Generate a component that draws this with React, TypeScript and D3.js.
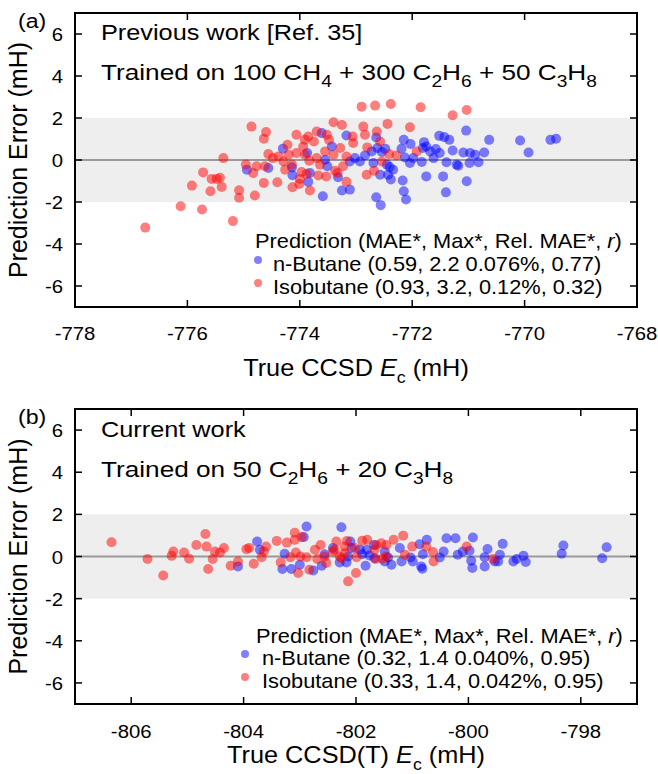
import React from "react";
import * as d3 from "d3";

const FONT = "'Liberation Sans', Arial, Helvetica, sans-serif";

const yTicks = [-6, -4, -2, 0, 2, 4, 6];
const xTicksA = [-778, -776, -774, -772, -770, -768];
const xTicksB = [-806, -804, -802, -800, -798];

const legendHeader = "Prediction (MAE*, Max*, Rel. MAE*, ";
const legendA = ["n-Butane (0.59, 2.2 0.076%, 0.77)", "Isobutane (0.93, 3.2, 0.12%, 0.32)"];
const legendB = ["n-Butane (0.32, 1.4 0.040%, 0.95)", "Isobutane (0.33, 1.4, 0.042%, 0.95)"];

const nButaneA: [number, number][] = [
  [-774.94,-0.46],[-774.56,-0.38],[-774.30,0.54],[-774.14,-0.35],[-774.13,-0.73],[-773.87,0.33],[-773.85,-1.04],[-773.82,-0.62],
  [-773.61,1.28],[-773.59,-1.73],[-773.51,-0.30],[-773.43,0.64],[-773.32,-0.82],[-773.25,-1.45],[-773.17,1.17],[-773.11,-1.41],
  [-773.11,-0.07],[-773.02,0.09],[-772.93,-0.07],[-772.84,0.22],[-772.72,0.41],[-772.69,-0.14],[-772.64,1.07],[-772.62,0.57],
  [-772.64,-1.77],[-772.57,-0.70],[-772.56,-2.15],[-772.54,0.38],[-772.48,0.54],[-772.45,-0.22],[-772.43,-0.70],[-772.40,-0.33],
  [-772.34,-0.46],[-773.55,0.01],[-772.38,-0.93],[-772.19,0.54],[-772.17,-0.98],[-772.15,0.96],[-772.15,-1.49],[-772.11,-1.88],
  [-772.13,0.12],[-772.04,-0.14],[-772.03,0.76],[-771.98,0.09],[-771.83,-0.09],[-771.81,0.57],[-771.79,0.85],[-771.75,0.64],
  [-771.75,-0.78],[-771.68,0.41],[-771.62,0.09],[-771.58,0.52],[-771.52,1.15],[-771.51,0.33],[-771.45,-0.78],[-771.43,1.09],
  [-771.40,-1.54],[-771.39,-0.11],[-771.34,0.96],[-771.28,0.45],[-771.21,-0.22],[-771.18,-0.27],[-771.09,0.36],[-771.04,1.40],
  [-771.03,-1.01],[-770.98,-0.14],[-770.97,0.33],[-770.88,0.25],[-770.82,-0.11],[-770.72,0.36],[-770.63,0.96],[-770.08,0.93],
  [-769.93,0.36],[-769.54,0.96],[-769.44,1.01]
];

const isobutaneA: [number, number][] = [
  [-776.75,-3.22],[-776.12,-2.20],[-775.74,-2.36],[-775.19,-2.91],[-775.92,-1.22],[-775.72,-0.59],[-775.59,-1.49],[-775.57,-0.90],
  [-775.48,-0.90],[-775.42,-0.85],[-775.39,-1.28],[-775.36,0.09],[-775.08,-1.44],[-775.08,-1.80],[-774.96,-0.22],[-774.86,1.59],
  [-774.60,1.33],[-774.64,1.01],[-774.06,1.20],[-773.85,1.12],[-773.70,1.36],[-773.52,1.20],[-773.48,0.96],[-773.40,1.80],
  [-773.25,1.67],[-772.87,1.59],[-772.84,1.20],[-773.06,1.12],[-773.05,0.81],[-772.63,1.36],[-772.90,2.54],[-772.66,2.59],
  [-773.91,0.96],[-773.75,0.88],[-774.22,0.73],[-773.94,0.64],[-773.28,0.57],[-772.80,0.60],[-774.56,0.28],[-774.38,0.17],
  [-774.20,0.25],[-774.06,0.33],[-773.91,0.25],[-773.70,0.09],[-773.55,0.41],[-773.40,0.25],[-773.17,0.17],[-774.48,0.09],
  [-774.29,-0.07],[-774.14,-0.22],[-773.83,-0.03],[-773.64,-0.22],[-774.77,-0.30],[-774.62,-0.30],[-774.83,-0.62],[-774.26,-0.46],
  [-773.97,-0.57],[-773.88,-0.66],[-773.67,-0.74],[-773.53,-0.78],[-773.37,-0.51],[-773.33,-0.62],[-773.23,-0.30],[-772.81,-0.70],
  [-772.68,-0.51],[-774.64,-1.09],[-774.40,-1.06],[-774.13,-1.30],[-774.01,-1.14],[-773.82,-1.45],[-773.17,-1.04],[-774.80,-1.69],
  [-772.57,0.88],[-772.54,-0.07],[-772.44,1.72],[-772.41,0.28],[-772.38,2.67],[-772.28,0.22],[-772.04,1.56],[-771.92,0.41],
  [-771.85,2.51],[-771.28,2.13],[-771.03,2.38],[-774.00,-0.90]
];

const nButaneB: [number, number][] = [
  [-804.10,-0.47],[-803.76,0.71],[-803.71,0.32],[-803.27,0.13],[-803.31,-0.59],[-803.15,-0.59],[-803.00,-0.39],[-802.88,1.42],
  [-802.93,0.92],[-802.76,-0.66],[-802.61,-0.44],[-802.41,0.40],[-802.26,1.39],[-802.29,-0.28],[-802.17,-0.28],[-802.10,0.71],
  [-801.93,0.32],[-801.81,0.32],[-801.83,-0.44],[-801.68,0.55],[-801.67,-0.08],[-802.56,0.11],[-802.08,0.40],[-802.14,0.00],
  [-801.89,0.11],[-801.76,0.05],[-801.49,0.24],[-801.43,-0.05],[-801.49,-0.24],[-801.37,-0.39],[-801.22,0.40],[-801.19,-0.24],
  [-801.03,-0.05],[-800.99,-0.24],[-800.87,0.58],[-800.74,0.79],[-800.81,0.11],[-800.84,-0.47],[-800.82,-0.58],[-800.51,-0.05],
  [-800.44,0.24],[-800.39,0.87],[-800.23,0.87],[-800.19,0.08],[-800.10,0.24],[-799.98,0.27],[-799.92,0.90],[-799.95,-0.20],
  [-799.93,-0.55],[-799.66,0.36],[-799.39,0.60],[-799.44,0.08],[-799.71,-0.03],[-799.53,-0.24],[-799.47,-0.24],[-799.71,-0.47],
  [-799.20,-0.24],[-799.14,-0.12],[-799.02,0.03],[-798.98,-0.26],[-798.31,0.52],[-798.34,0.13],[-797.54,0.44],[-797.62,-0.08]
];

const isobutaneB: [number, number][] = [
  [-806.35,0.68],[-805.71,-0.12],[-805.43,-0.90],[-805.28,0.03],[-805.25,0.24],[-805.06,0.19],[-804.97,-0.11],[-804.84,0.55],
  [-804.68,1.07],[-804.66,0.47],[-804.63,-0.59],[-804.55,-0.12],[-804.51,0.24],[-804.42,0.19],[-804.35,0.40],[-804.23,-0.44],
  [-804.10,-0.24],[-803.95,0.35],[-803.90,0.40],[-803.82,-0.34],[-803.68,-0.03],[-803.64,0.24],[-803.60,0.47],[-803.41,0.74],
  [-803.34,-0.28],[-803.23,0.66],[-803.09,1.13],[-803.09,0.79],[-803.17,-0.03],[-803.03,-0.78],[-802.97,0.92],[-803.07,0.19],
  [-802.99,0.00],[-802.88,-0.03],[-802.83,-0.63],[-802.73,0.32],[-802.69,-0.12],[-802.63,0.55],[-802.56,0.00],[-802.53,-0.31],
  [-802.41,0.24],[-802.35,0.71],[-802.29,0.00],[-802.20,0.47],[-802.16,0.74],[-802.14,-1.18],[-802.00,-0.78],[-801.99,-0.03],
  [-801.89,0.75],[-801.80,0.79],[-801.65,-0.12],[-802.38,0.32],[-802.26,-0.08],[-802.20,0.16],[-802.02,0.40],[-801.67,0.32],
  [-801.64,0.55],[-801.55,0.63],[-801.46,0.55],[-801.33,0.79],[-801.16,0.99],[-801.00,0.47],[-800.75,0.47],[-801.53,-0.11],
  [-801.46,0.00],[-801.13,0.08],[-800.63,0.21],[-800.62,-0.24],[-800.03,0.47],[-799.56,-0.12]
];

type Seg = { t: string; sub?: boolean; it?: boolean };

function SegText({ segs, x, y, fs, sx = 1, anchor = "start", subScale = 0.7 }: { segs: Seg[]; x: number; y: number; fs: number; sx?: number; anchor?: string; subScale?: number }) {
  let shifted = false;
  const subFs = fs * subScale;
  const shift = fs * 0.3;
  return (
    <text transform={`translate(${x},${y}) scale(${sx},1)`} fontSize={fs} textAnchor={anchor} fill="#000">
      {segs.map((s, i) => {
        let dy = 0;
        if (s.sub && !shifted) { dy = shift; shifted = true; }
        else if (!s.sub && shifted) { dy = -shift; shifted = false; }
        return (
          <tspan key={i} dy={dy} fontSize={s.sub ? subFs : fs} fontStyle={s.it ? "italic" : "normal"}>{s.t}</tspan>
        );
      })}
    </text>
  );
}

const X0 = 75, X1 = 637;
const BLUE = "#0000ff", RED = "#ff0000";
const ANN_FS = 22;
const LEG_FS = 20, LEG_SX = 1.09;

type PanelProps = {
  top: number; bottom: number; xDomain: [number, number]; xTicks: number[];
  blue: [number, number][]; red: [number, number][];
  label: string; line1: Seg[]; line2: Seg[]; line1Y: number; line2Y: number; legend: string[];
  legendX: number; legendDotX: number; legendTextX: number; legendY: number[];
  xTitle: Seg[]; tickLabelY: number; titleY: number;
};

function Panel(p: PanelProps) {
  const x = d3.scaleLinear().domain(p.xDomain).range([X0, X1]);
  const y = d3.scaleLinear().domain([-7, 7]).range([p.bottom, p.top]);
  const tl = 7;
  const cy = (p.top + p.bottom) / 2;
  return (
    <g fontFamily={FONT}>
      <rect x={X0} y={y(2)} width={X1 - X0} height={y(-2) - y(2)} fill="#eeeeee" />
      <line x1={X0} x2={X1} y1={y(0)} y2={y(0)} stroke="#999" strokeWidth={2} />
      {p.blue.map((d, i) => (
        <circle key={"b" + i} cx={x(d[0])} cy={y(d[1])} r={5} fill={BLUE} fillOpacity={0.5} />
      ))}
      {p.red.map((d, i) => (
        <circle key={"r" + i} cx={x(d[0])} cy={y(d[1])} r={5} fill={RED} fillOpacity={0.5} />
      ))}
      {p.xTicks.map((t) => (
        <g key={"xt" + t}>
          <line x1={x(t)} x2={x(t)} y1={p.bottom} y2={p.bottom - tl} stroke="#000" strokeWidth={1.5} />
          <line x1={x(t)} x2={x(t)} y1={p.top} y2={p.top + tl} stroke="#000" strokeWidth={1.5} />
          <SegText segs={[{ t: String(t) }]} x={x(t)} y={p.tickLabelY} fs={19} sx={1.07} anchor="middle" />
        </g>
      ))}
      {yTicks.map((t) => (
        <g key={"yt" + t}>
          <line x1={X0} x2={X0 + tl} y1={y(t)} y2={y(t)} stroke="#000" strokeWidth={1.5} />
          <line x1={X1} x2={X1 - tl} y1={y(t)} y2={y(t)} stroke="#000" strokeWidth={1.5} />
          <SegText segs={[{ t: String(t) }]} x={63} y={y(t) + 7} fs={19} sx={1.07} anchor="end" />
        </g>
      ))}
      <rect x={X0} y={p.top} width={X1 - X0} height={p.bottom - p.top} fill="none" stroke="#000" strokeWidth={2} />
      <SegText segs={[{ t: p.label }]} x={18} y={p.top + 15} fs={21} sx={1.1} />
      <text transform={`translate(27,${cy}) rotate(-90)`} fontSize={25} textAnchor="middle">Prediction Error (mH)</text>
      <SegText segs={p.line1} x={101} y={p.line1Y} fs={ANN_FS} sx={1.15} />
      <SegText segs={p.line2} x={101} y={p.line2Y} fs={ANN_FS} sx={1.19} subScale={0.73} />
      <SegText segs={[{ t: legendHeader }, { t: "r", it: true }, { t: ")" }]} x={p.legendX} y={p.legendY[0]} fs={LEG_FS} sx={LEG_SX} />
      <circle cx={p.legendDotX} cy={p.legendY[1] - 11} r={4} fill={BLUE} fillOpacity={0.5} />
      <SegText segs={[{ t: p.legend[0] }]} x={p.legendTextX} y={p.legendY[1]} fs={LEG_FS} sx={LEG_SX} />
      <circle cx={p.legendDotX} cy={p.legendY[2] - 11} r={4} fill={RED} fillOpacity={0.5} />
      <SegText segs={[{ t: p.legend[1] }]} x={p.legendTextX} y={p.legendY[2]} fs={LEG_FS} sx={LEG_SX} />
      <SegText segs={p.xTitle} x={(X0 + X1) / 2} y={p.titleY} fs={23} sx={1.1} anchor="middle" />
    </g>
  );
}

export default function App() {
  return (
    <svg width={658} height={774} style={{ display: "block", position: "absolute", left: 0, top: 0 }}>
      <rect width={658} height={774} fill="#fff" />
      <Panel
        top={13} bottom={307} xDomain={[-778, -768]} xTicks={xTicksA}
        blue={nButaneA} red={isobutaneA} label="(a)"
        line1={[{ t: "Previous work [Ref. 35]" }]}
        line2={[{ t: "Trained on 100 CH" }, { t: "4", sub: true }, { t: " + 300 C" }, { t: "2", sub: true }, { t: "H" }, { t: "6", sub: true }, { t: " + 50 C" }, { t: "3", sub: true }, { t: "H" }, { t: "8", sub: true }]}
        line1Y={40} line2Y={80}
        legend={legendA} legendX={255} legendDotX={258} legendTextX={273} legendY={[248, 271, 294]}
        xTitle={[{ t: "True CCSD " }, { t: "E", it: true }, { t: "c", sub: true }, { t: " (mH)" }]}
        tickLabelY={340} titleY={376}
      />
      <Panel
        top={409} bottom={704} xDomain={[-807, -797]} xTicks={xTicksB}
        blue={nButaneB} red={isobutaneB} label="(b)"
        line1={[{ t: "Current work" }]}
        line2={[{ t: "Trained on 50 C" }, { t: "2", sub: true }, { t: "H" }, { t: "6", sub: true }, { t: " + 20 C" }, { t: "3", sub: true }, { t: "H" }, { t: "8", sub: true }]}
        line1Y={437} line2Y={477}
        legend={legendB} legendX={256} legendDotX={245} legendTextX={262} legendY={[643, 665, 688]}
        xTitle={[{ t: "True CCSD(T) " }, { t: "E", it: true }, { t: "c", sub: true }, { t: " (mH)" }]}
        tickLabelY={738} titleY={763}
      />
    </svg>
  );
}
